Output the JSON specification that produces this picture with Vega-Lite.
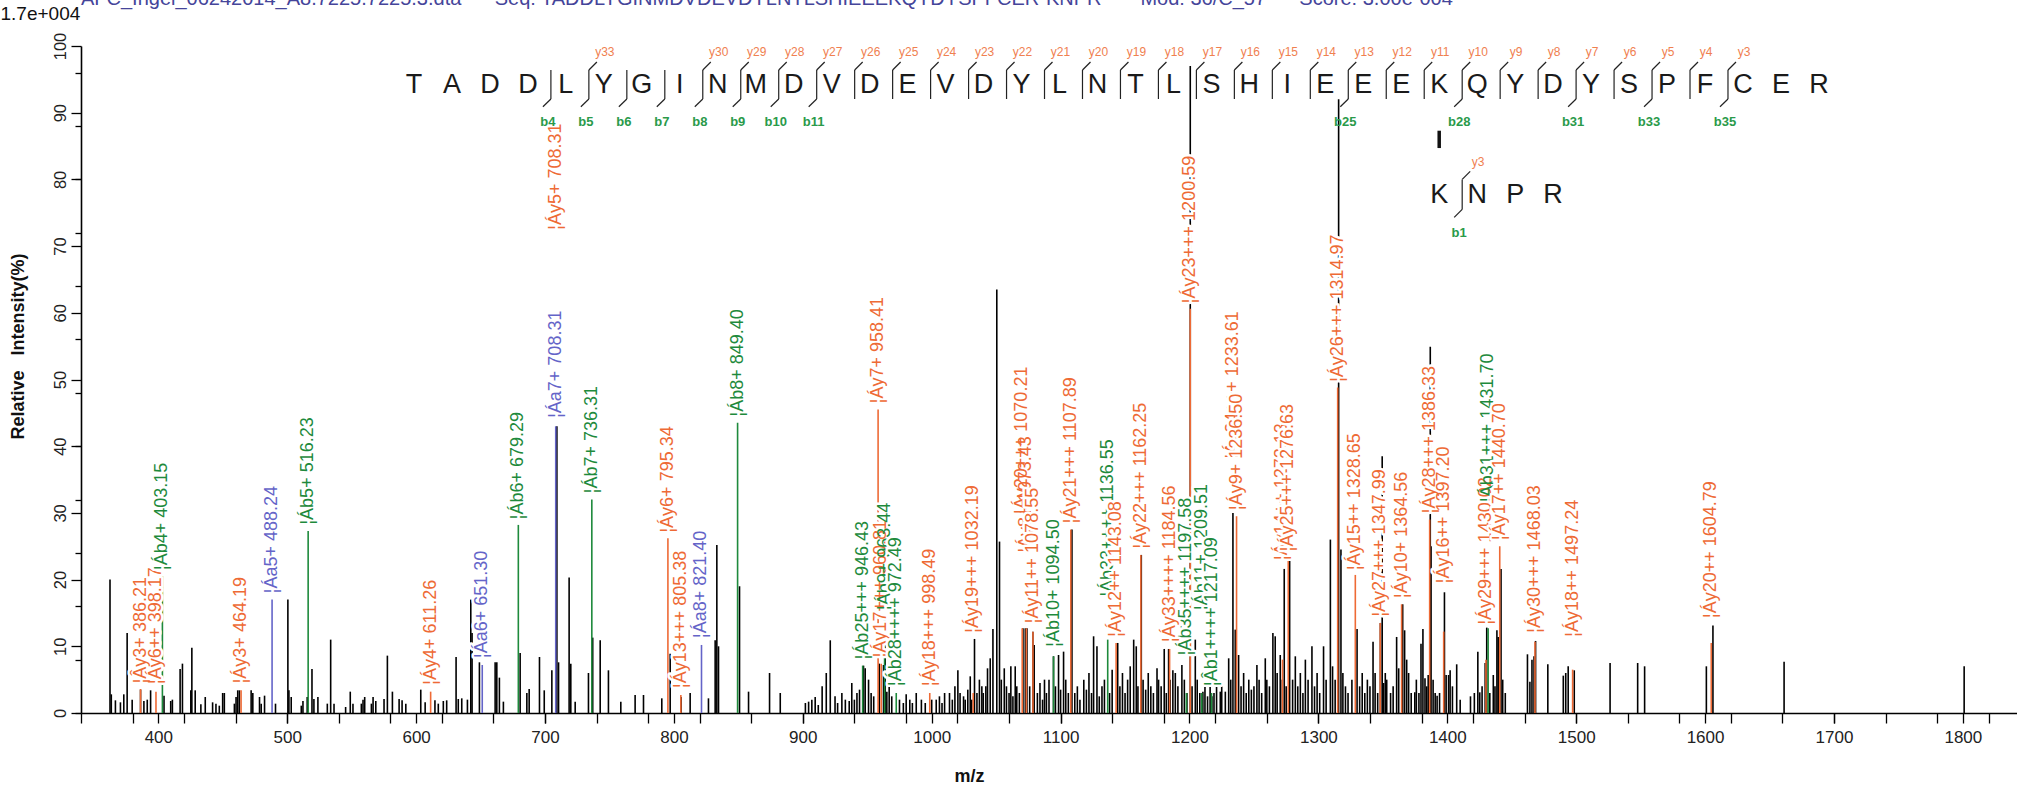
{
"$schema": "https://vega.github.io/schema/vega-lite/v6.json",
"width": 1936, "height": 667,
"autosize": {"type": "none"},
"padding": {"left": 81, "top": 46, "right": 0, "bottom": 78},
"background": "white",
"config": {"view": {"stroke": null}, "font": "Liberation Sans", "axis": {"labelFont": "Liberation Sans", "titleFont": "Liberation Sans", "grid": false}},
"title": {"text": "AFC_Ingel_06242014_A8.7225.7225.3.dta\u00a0\u00a0\u00a0\u00a0\u00a0\u00a0Seq: TADDLYGINMDVDEVDYLNTLSHIEEEKQYDYSPFCER-KNPR\u00a0\u00a0\u00a0\u00a0\u00a0\u00a0\u00a0Mod: 36/C_57\u00a0\u00a0\u00a0\u00a0\u00a0\u00a0Score: 3.00e-004", "anchor": "start", "frame": "group", "offset": -5, "fontSize": 20, "fontWeight": "normal", "color": "#45459a", "font": "Liberation Sans"},
"datasets": {
"peaks": [
{"mz":362.5,"i":20},{"mz":363.5,"i":2.8},{"mz":366.7,"i":1.9},{"mz":370.6,"i":1.6},{"mz":373.2,"i":2.8},{"mz":375.8,"i":12},{"mz":379.7,"i":2},{"mz":386.2,"i":3.5},{"mz":388.8,"i":1.8},{"mz":391.4,"i":2},{"mz":394,"i":3.4},{"mz":404.4,"i":2.6},{"mz":409.6,"i":1.8},{"mz":410.9,"i":2},{"mz":416.9,"i":6.6},{"mz":418.7,"i":7.4},{"mz":425.2,"i":3.4},{"mz":426,"i":9.8},{"mz":428.6,"i":3.4},{"mz":433,"i":1.3},{"mz":436.4,"i":2.4},{"mz":442.1,"i":1.6},{"mz":444.7,"i":1.4},{"mz":447.3,"i":1.1},{"mz":449.9,"i":3},{"mz":451.2,"i":3},{"mz":459,"i":1.4},{"mz":460.3,"i":2.4},{"mz":461.6,"i":3.4},{"mz":462.9,"i":3.4},{"mz":472,"i":3.4},{"mz":473.3,"i":3},{"mz":478.5,"i":2.4},{"mz":479.8,"i":1.4},{"mz":482.4,"i":2.6},{"mz":490.9,"i":1.4},{"mz":500.5,"i":17},{"mz":501.3,"i":3.4},{"mz":503.1,"i":2.4},{"mz":510.9,"i":1.1},{"mz":512.2,"i":1.8},{"mz":515.5,"i":2.4},{"mz":519.2,"i":6.6},{"mz":520.7,"i":2.1},{"mz":523.8,"i":2.4},{"mz":531.1,"i":1.4},{"mz":533.7,"i":11},{"mz":536.3,"i":1.4},{"mz":545.3,"i":0.9},{"mz":548.9,"i":3.2},{"mz":551,"i":1.4},{"mz":557.5,"i":1.4},{"mz":558.8,"i":2},{"mz":560.1,"i":2.4},{"mz":565.3,"i":1.4},{"mz":566.6,"i":2.4},{"mz":568.7,"i":1.8},{"mz":575.1,"i":2.1},{"mz":577.7,"i":8.6},{"mz":581.6,"i":3.2},{"mz":586.8,"i":2.1},{"mz":589.1,"i":1.9},{"mz":592,"i":1.4},{"mz":603.6,"i":3.5},{"mz":607,"i":1.6},{"mz":614.6,"i":1.9},{"mz":617.2,"i":1.4},{"mz":621.1,"i":1.8},{"mz":623.7,"i":1.9},{"mz":631,"i":8.4},{"mz":632.7,"i":2.1},{"mz":635.4,"i":2.2},{"mz":639.8,"i":2},{"mz":642.4,"i":17},{"mz":643.4,"i":12},{"mz":649.1,"i":7.6},{"mz":661.3,"i":7.6},{"mz":662.6,"i":7.6},{"mz":664.6,"i":5.3},{"mz":667.7,"i":1.7},{"mz":680.7,"i":9},{"mz":685.9,"i":3},{"mz":687.7,"i":3.6},{"mz":695.7,"i":8.4},{"mz":699.4,"i":3.4},{"mz":705.3,"i":6.4},{"mz":709.2,"i":43},{"mz":710.5,"i":7.6},{"mz":718.7,"i":20.3},{"mz":720,"i":7.4},{"mz":723.4,"i":1.7},{"mz":733.7,"i":6},{"mz":737,"i":11.3},{"mz":742.8,"i":10.9},{"mz":749.2,"i":6.4},{"mz":758.8,"i":1.7},{"mz":769.9,"i":2.7},{"mz":776.4,"i":2.7},{"mz":790.6,"i":2.2},{"mz":797.1,"i":8.9},{"mz":805.6,"i":2.4},{"mz":812.6,"i":3},{"mz":826.8,"i":2.2},{"mz":832,"i":10.9},{"mz":833.3,"i":25.2},{"mz":834.6,"i":10},{"mz":850.9,"i":19},{"mz":857.9,"i":3.2},{"mz":874.2,"i":6},{"mz":882.5,"i":3},{"mz":904.5,"i":1.7},{"mz":909.6,"i":2.4},{"mz":918.2,"i":6},{"mz":921.3,"i":10.9},{"mz":930.3,"i":3},{"mz":942,"i":3},{"mz":947.1,"i":7.1},{"mz":948.4,"i":6.7},{"mz":959.3,"i":7.4},{"mz":962.6,"i":7.2},{"mz":963.9,"i":14.4},{"mz":965.2,"i":3.2},{"mz":980.2,"i":2.8},{"mz":988,"i":3},{"mz":1003.5,"i":2},{"mz":1013.8,"i":3},{"mz":1020.3,"i":6.4},{"mz":1024.7,"i":2.5},{"mz":1029.9,"i":5.5},{"mz":1033.2,"i":11.1},{"mz":1035.1,"i":3},{"mz":1038.9,"i":4},{"mz":1043.3,"i":6.7},{"mz":1045.4,"i":8.2},{"mz":1047.5,"i":12.6},{"mz":1050.5,"i":63.5},{"mz":1052.6,"i":25.7},{"mz":1056.3,"i":6.7},{"mz":1061.4,"i":7},{"mz":1064.8,"i":7},{"mz":1070.8,"i":12.7},{"mz":1072.6,"i":12.7},{"mz":1073.9,"i":12.7},{"mz":1078.5,"i":12.2},{"mz":1079.5,"i":10.2},{"mz":1087.5,"i":5},{"mz":1094.5,"i":8.5},{"mz":1098.4,"i":8.7},{"mz":1102.3,"i":9.2},{"mz":1108.8,"i":27.5},{"mz":1125.6,"i":11.5},{"mz":1128.2,"i":10},{"mz":1132.1,"i":4},{"mz":1144.3,"i":10.5},{"mz":1156.7,"i":11},{"mz":1158.7,"i":10},{"mz":1162.6,"i":23.7},{"mz":1174.8,"i":6.7},{"mz":1180.4,"i":9.6},{"mz":1183.8,"i":9.6},{"mz":1187.1,"i":6.4},{"mz":1194.1,"i":7.2},{"mz":1200.6,"i":97},{"mz":1204.5,"i":11},{"mz":1210.4,"i":3.2},{"mz":1217.4,"i":2.5},{"mz":1223.9,"i":3.2},{"mz":1227.8,"i":3.2},{"mz":1230.4,"i":8.2},{"mz":1233.7,"i":30},{"mz":1235.5,"i":12.5},{"mz":1238.1,"i":8.7},{"mz":1252.3,"i":7.2},{"mz":1258.8,"i":8.2},{"mz":1264.7,"i":12},{"mz":1266.5,"i":11.5},{"mz":1270.4,"i":8.7},{"mz":1273.5,"i":21.6},{"mz":1277.7,"i":23.5},{"mz":1282.1,"i":8.5},{"mz":1289.9,"i":8},{"mz":1295,"i":10},{"mz":1304,"i":10},{"mz":1309.3,"i":26},{"mz":1315.7,"i":92},{"mz":1317.5,"i":24.5},{"mz":1330,"i":12.6},{"mz":1342.4,"i":10.7},{"mz":1348.1,"i":13.5},{"mz":1349.5,"i":38.5},{"mz":1350.6,"i":4.5},{"mz":1351.9,"i":6},{"mz":1356,"i":3},{"mz":1360.7,"i":11.4},{"mz":1362.3,"i":6.7},{"mz":1365.4,"i":16.3},{"mz":1366.9,"i":12.4},{"mz":1368.5,"i":8},{"mz":1374.8,"i":3.1},{"mz":1379.6,"i":10.4},{"mz":1381.1,"i":12.6},{"mz":1382.7,"i":5.2},{"mz":1385.2,"i":5.7},{"mz":1386.8,"i":54.9},{"mz":1387.4,"i":25},{"mz":1390.6,"i":3},{"mz":1392.1,"i":2.6},{"mz":1397.8,"i":18.1},{"mz":1399.1,"i":5.7},{"mz":1401,"i":5.7},{"mz":1402.2,"i":6.4},{"mz":1407.3,"i":7.3},{"mz":1423.7,"i":9.2},{"mz":1425.2,"i":3.1},{"mz":1429.4,"i":7.5},{"mz":1430.6,"i":12.8},{"mz":1435.7,"i":5.7},{"mz":1438.5,"i":12.4},{"mz":1439.5,"i":11.4},{"mz":1441.7,"i":21.6},{"mz":1462.2,"i":8.8},{"mz":1464.1,"i":4.7},{"mz":1465.7,"i":8},{"mz":1467.3,"i":8.5},{"mz":1468.5,"i":10.8},{"mz":1478,"i":7.3},{"mz":1490,"i":5.6},{"mz":1491.9,"i":6},{"mz":1493.8,"i":7},{"mz":1498.5,"i":6.4},{"mz":1526.3,"i":7.5},{"mz":1547.7,"i":7.5},{"mz":1553.1,"i":7},{"mz":1601,"i":7},{"mz":1606.1,"i":13.1},{"mz":1661.3,"i":7.7},{"mz":1801,"i":7},
{"mz":902,"i":1.5},{"mz":907,"i":2},{"mz":912,"i":1.2},{"mz":915,"i":4},{"mz":925,"i":2.5},{"mz":927,"i":1.5},{"mz":933,"i":2},{"mz":936,"i":1.8},{"mz":938,"i":4.5},{"mz":940,"i":2},{"mz":944,"i":3.5},{"mz":951,"i":5},{"mz":953,"i":3},{"mz":955,"i":2.5},{"mz":967,"i":4},{"mz":969,"i":2.5},{"mz":975,"i":2},{"mz":978,"i":1.5},{"mz":983,"i":2},{"mz":985,"i":1.5},{"mz":992,"i":2},{"mz":995,"i":1.5},{"mz":1000,"i":2},
{"mz":1006,"i":2.5},{"mz":1008,"i":1.5},{"mz":1010,"i":3},{"mz":1016,"i":2},{"mz":1018,"i":4},{"mz":1022,"i":3},{"mz":1026,"i":2},{"mz":1028,"i":3.5},{"mz":1031,"i":2},{"mz":1037,"i":5},{"mz":1040,"i":3},{"mz":1042,"i":4},{"mz":1054,"i":5},{"mz":1058,"i":4},{"mz":1060,"i":3},{"mz":1063,"i":2.5},{"mz":1066,"i":4},{"mz":1068,"i":3},{"mz":1076,"i":4},{"mz":1082,"i":3},{"mz":1084,"i":4.5},{"mz":1086,"i":2},{"mz":1089,"i":3},{"mz":1091,"i":5},{"mz":1096,"i":4},{"mz":1100,"i":3.5},{"mz":1104,"i":5},{"mz":1106,"i":3},
{"mz":1111,"i":3},{"mz":1113,"i":4},{"mz":1115,"i":2},{"mz":1118,"i":5},{"mz":1120,"i":3.5},{"mz":1122,"i":6},{"mz":1124,"i":3},{"mz":1130,"i":2.5},{"mz":1134,"i":5},{"mz":1138,"i":3},{"mz":1140,"i":6.5},{"mz":1146,"i":4},{"mz":1148,"i":6},{"mz":1150,"i":3},{"mz":1152,"i":5},{"mz":1154,"i":7},{"mz":1160,"i":4},{"mz":1164,"i":5},{"mz":1166,"i":3.5},{"mz":1168,"i":6},{"mz":1170,"i":4},{"mz":1172,"i":3},{"mz":1176,"i":5},{"mz":1178,"i":4},{"mz":1182,"i":3},{"mz":1185,"i":5},{"mz":1189,"i":6},{"mz":1191,"i":4},{"mz":1196,"i":5},{"mz":1198,"i":3},
{"mz":1202,"i":4},{"mz":1206,"i":5},{"mz":1208,"i":3},{"mz":1212,"i":4},{"mz":1214,"i":2.5},{"mz":1216,"i":4.5},{"mz":1219,"i":3},{"mz":1221,"i":5},{"mz":1225,"i":4},{"mz":1232,"i":5},{"mz":1240,"i":4},{"mz":1242,"i":6},{"mz":1244,"i":3},{"mz":1246,"i":5},{"mz":1248,"i":3.5},{"mz":1250,"i":4},{"mz":1254,"i":5},{"mz":1256,"i":3},{"mz":1260,"i":5},{"mz":1262,"i":4},{"mz":1268,"i":6},{"mz":1272,"i":5},{"mz":1275,"i":4},{"mz":1280,"i":5},{"mz":1284,"i":4},{"mz":1286,"i":6},{"mz":1288,"i":3},{"mz":1292,"i":5},{"mz":1297,"i":4},{"mz":1299,"i":6},{"mz":1301,"i":3},{"mz":1306,"i":5},{"mz":1311,"i":7},
{"mz":1313,"i":5},{"mz":1319,"i":6},{"mz":1321,"i":4},{"mz":1323,"i":3},{"mz":1326,"i":5},{"mz":1332,"i":4},{"mz":1334,"i":6},{"mz":1336,"i":3},{"mz":1338,"i":5},{"mz":1340,"i":4},{"mz":1344,"i":6},{"mz":1346,"i":3},{"mz":1353,"i":5},{"mz":1358,"i":4},{"mz":1370,"i":6},{"mz":1372,"i":3},{"mz":1376,"i":5},{"mz":1378,"i":3},{"mz":1384,"i":4},{"mz":1389,"i":5},{"mz":1394,"i":3},{"mz":1404,"i":4},{"mz":1410,"i":2},{"mz":1418,"i":2.5},{"mz":1421,"i":3},{"mz":1427,"i":4},{"mz":1433,"i":3},{"mz":1437,"i":4},{"mz":1443,"i":5},{"mz":1445,"i":3}
],
"ann": [
{"mz":386.21,"h":4,"l":3.6,"t":"¦Ây3+ 386.21","ion":"y","lv":"back"},
{"mz":398.17,"h":3.9,"l":3.2,"t":"¦Áy6++ 398.17","ion":"y","lv":"back"},
{"mz":403.15,"h":21,"l":20.5,"t":"¦Áb4+ 403.15","ion":"b","lv":"front"},
{"mz":464.19,"h":4,"l":3.4,"t":"¦Áy3+ 464.19","ion":"y","lv":"front"},
{"mz":488.24,"h":17.5,"l":17,"t":"¦Áa5+ 488.24","ion":"a","lv":"front"},
{"mz":516.23,"h":27.8,"l":27.3,"t":"¦Áb5+ 516.23","ion":"b","lv":"front"},
{"mz":611.26,"h":3.8,"l":3.2,"t":"¦Áy4+ 611.26","ion":"y","lv":"front"},
{"mz":651.30,"h":7.8,"l":7.2,"t":"¦Áa6+ 651.30","ion":"a","lv":"front"},
{"mz":679.29,"h":28.6,"l":28.2,"t":"¦Áb6+ 679.29","ion":"b","lv":"front"},
{"mz":708.31,"h":43.8,"l":43,"t":"¦Áa7+ 708.31","ion":"a","lv":"front"},
{"mz":708.31,"h":72,"l":0,"t":"¦Áy5+ 708.31","ion":"y","lv":"front"},
{"mz":736.31,"h":32.5,"l":32,"t":"¦Áb7+ 736.31","ion":"b","lv":"front"},
{"mz":795.34,"h":26.6,"l":26.2,"t":"¦Áy6+ 795.34","ion":"y","lv":"front"},
{"mz":805.38,"h":3.3,"l":2.7,"t":"¦Áy13+++ 805.38","ion":"y","lv":"front"},
{"mz":821.40,"h":10.8,"l":10.2,"t":"¦Áa8+ 821.40","ion":"a","lv":"front"},
{"mz":849.40,"h":44,"l":43.5,"t":"¦Áb8+ 849.40","ion":"b","lv":"front"},
{"mz":946.43,"h":7.6,"l":7.1,"t":"¦Áb25+++ 946.43","ion":"b","lv":"back"},
{"mz":958.41,"h":46,"l":45.5,"t":"¦Áy7+ 958.41","ion":"y","lv":"front"},
{"mz":960.81,"h":7.9,"l":7.4,"t":"¦Áy17+++ 960.81","ion":"y","lv":"back"},
{"mz":963.44,"h":15,"l":14.4,"t":"¦Áb9+ 963.44","ion":"b","lv":"back"},
{"mz":972.49,"h":3.6,"l":3,"t":"¦Áb28++++ 972.49","ion":"b","lv":"front"},
{"mz":998.49,"h":3.6,"l":3,"t":"¦Áy18+++ 998.49","ion":"y","lv":"front"},
{"mz":1032.19,"h":11.6,"l":3,"t":"¦Áy19+++ 1032.19","ion":"y","lv":"front"},
{"mz":1070.21,"h":29.4,"l":12.7,"t":"¦Áy20+++ 1070.21","ion":"y","lv":"back"},
{"mz":1073.43,"h":23.6,"l":12.7,"t":"¦Áy8+ 1073.43","ion":"y","lv":"back"},
{"mz":1078.55,"h":13,"l":12.2,"t":"¦Áy11++ 1078.55","ion":"y","lv":"front"},
{"mz":1094.50,"h":9.5,"l":8.5,"t":"¦Áb10+ 1094.50","ion":"b","lv":"front"},
{"mz":1107.89,"h":28,"l":27.5,"t":"¦Áy21+++ 1107.89","ion":"y","lv":"front"},
{"mz":1136.55,"h":17,"l":11,"t":"¦Áb33++++ 1136.55","ion":"b","lv":"back"},
{"mz":1143.08,"h":11,"l":10.5,"t":"¦Áy12++ 1143.08","ion":"y","lv":"front"},
{"mz":1162.25,"h":24.2,"l":23.7,"t":"¦Áy22+++ 1162.25","ion":"y","lv":"front"},
{"mz":1184.56,"h":10.2,"l":9.6,"t":"¦Áy33++++ 1184.56","ion":"y","lv":"front"},
{"mz":1197.58,"h":8.2,"l":3,"t":"¦Áb35++++ 1197.58","ion":"b","lv":"back"},
{"mz":1200.59,"h":61,"l":60.6,"t":"¦Áy23+++ 1200.59","ion":"y","lv":"front"},
{"mz":1209.51,"h":15,"l":3,"t":"¦Áb11+ 1209.51","ion":"b","lv":"back"},
{"mz":1217.09,"h":3.6,"l":3,"t":"¦Âb1++++ 1217.09","ion":"b","lv":"front"},
{"mz":1233.61,"h":37.7,"l":0,"t":"¦Áy24+++ 1233.61","ion":"y","lv":"back"},
{"mz":1236.50,"h":30,"l":29.5,"t":"¦Áy9+ 1236.50","ion":"y","lv":"front"},
{"mz":1272.13,"h":22.5,"l":8,"t":"¦Áy14++ 1272.13","ion":"y","lv":"back"},
{"mz":1276.63,"h":23.8,"l":23.4,"t":"¦Áy25+++ 1276.63","ion":"y","lv":"front"},
{"mz":1314.97,"h":49.2,"l":48.8,"t":"¦Áy26+++ 1314.97","ion":"y","lv":"front"},
{"mz":1328.65,"h":21,"l":20.7,"t":"¦Áy15++ 1328.65","ion":"y","lv":"front"},
{"mz":1347.99,"h":14,"l":13.5,"t":"¦Áy27+++ 1347.99","ion":"y","lv":"front"},
{"mz":1364.56,"h":16.8,"l":16.3,"t":"¦Áy10+ 1364.56","ion":"y","lv":"front"},
{"mz":1386.33,"h":29.5,"l":29,"t":"¦Áy28+++ 1386.33","ion":"y","lv":"front"},
{"mz":1397.20,"h":19,"l":12.2,"t":"¦Áy16++ 1397.20","ion":"y","lv":"front"},
{"mz":1430.02,"h":12.8,"l":8,"t":"¦Áy29+++ 1430.02","ion":"y","lv":"back"},
{"mz":1431.70,"h":31.2,"l":12.7,"t":"¦Áb31+++ 1431.70","ion":"b","lv":"back"},
{"mz":1440.70,"h":25.5,"l":25,"t":"¦Áy17++ 1440.70","ion":"y","lv":"front"},
{"mz":1468.03,"h":11.6,"l":10.7,"t":"¦Áy30+++ 1468.03","ion":"y","lv":"front"},
{"mz":1497.24,"h":11,"l":6.5,"t":"¦Áy18++ 1497.24","ion":"y","lv":"front"},
{"mz":1604.79,"h":13.8,"l":10.5,"t":"¦Áy20++ 1604.79","ion":"y","lv":"front"}
],
"seq": [
{"i":1,"aa":"T","row":1},{"i":2,"aa":"A","row":1},{"i":3,"aa":"D","row":1},{"i":4,"aa":"D","row":1},{"i":5,"aa":"L","row":1},{"i":6,"aa":"Y","row":1},{"i":7,"aa":"G","row":1},{"i":8,"aa":"I","row":1},{"i":9,"aa":"N","row":1},{"i":10,"aa":"M","row":1},{"i":11,"aa":"D","row":1},{"i":12,"aa":"V","row":1},{"i":13,"aa":"D","row":1},{"i":14,"aa":"E","row":1},{"i":15,"aa":"V","row":1},{"i":16,"aa":"D","row":1},{"i":17,"aa":"Y","row":1},{"i":18,"aa":"L","row":1},{"i":19,"aa":"N","row":1},{"i":20,"aa":"T","row":1},{"i":21,"aa":"L","row":1},{"i":22,"aa":"S","row":1},{"i":23,"aa":"H","row":1},{"i":24,"aa":"I","row":1},{"i":25,"aa":"E","row":1},{"i":26,"aa":"E","row":1},{"i":27,"aa":"E","row":1},{"i":28,"aa":"K","row":1},{"i":29,"aa":"Q","row":1},{"i":30,"aa":"Y","row":1},{"i":31,"aa":"D","row":1},{"i":32,"aa":"Y","row":1},{"i":33,"aa":"S","row":1},{"i":34,"aa":"P","row":1},{"i":35,"aa":"F","row":1},{"i":36,"aa":"C","row":1},{"i":37,"aa":"E","row":1},{"i":38,"aa":"R","row":1},
{"i":28,"aa":"K","row":2},{"i":29,"aa":"N","row":2},{"i":30,"aa":"P","row":2},{"i":31,"aa":"R","row":2}
],
"cuts": [
{"cut":4.5,"row":1,"b":"b4"},{"cut":5.5,"row":1,"y":"y33","b":"b5"},{"cut":6.5,"row":1,"b":"b6"},{"cut":7.5,"row":1,"b":"b7"},{"cut":8.5,"row":1,"y":"y30","b":"b8"},{"cut":9.5,"row":1,"y":"y29","b":"b9"},{"cut":10.5,"row":1,"y":"y28","b":"b10"},{"cut":11.5,"row":1,"y":"y27","b":"b11"},{"cut":12.5,"row":1,"y":"y26"},{"cut":13.5,"row":1,"y":"y25"},{"cut":14.5,"row":1,"y":"y24"},{"cut":15.5,"row":1,"y":"y23"},{"cut":16.5,"row":1,"y":"y22"},{"cut":17.5,"row":1,"y":"y21"},{"cut":18.5,"row":1,"y":"y20"},{"cut":19.5,"row":1,"y":"y19"},{"cut":20.5,"row":1,"y":"y18"},{"cut":21.5,"row":1,"y":"y17"},{"cut":22.5,"row":1,"y":"y16"},{"cut":23.5,"row":1,"y":"y15"},{"cut":24.5,"row":1,"y":"y14"},{"cut":25.5,"row":1,"y":"y13","b":"b25"},{"cut":26.5,"row":1,"y":"y12"},{"cut":27.5,"row":1,"y":"y11"},{"cut":28.5,"row":1,"y":"y10","b":"b28"},{"cut":29.5,"row":1,"y":"y9"},{"cut":30.5,"row":1,"y":"y8"},{"cut":31.5,"row":1,"y":"y7","b":"b31"},{"cut":32.5,"row":1,"y":"y6"},{"cut":33.5,"row":1,"y":"y5","b":"b33"},{"cut":34.5,"row":1,"y":"y4"},{"cut":35.5,"row":1,"y":"y3","b":"b35"},
{"cut":28.5,"row":2,"y":"y3","b":"b1"}
]
},
"layer": [
{
"layer": [
{"data": {"name": "peaks"}, "mark": {"type": "rule", "color": "#000000", "strokeWidth": 1.6},
 "encoding": {
  "x": {"field": "mz", "type": "quantitative", "scale": {"domain": [340, 1842], "nice": false, "zero": false},
        "axis": {"values": [340,360,380,400,420,440,460,480,500,520,540,560,580,600,620,640,660,680,700,720,740,760,780,800,820,840,860,880,900,920,940,960,980,1000,1020,1040,1060,1080,1100,1120,1140,1160,1180,1200,1220,1240,1260,1280,1300,1320,1340,1360,1380,1400,1420,1440,1460,1480,1500,1520,1540,1560,1580,1600,1620,1640,1660,1680,1700,1720,1740,1760,1780,1800,1820,1840],
                 "labels": false,
                 "tickSize": 10, "tickColor": "#000", "tickWidth": 1.3, "domainColor": "#000", "domainWidth": 1.6,
                 "title": "m/z", "titleFontSize": 18, "titleFontWeight": "bold", "titleColor": "#111", "titleX": 888, "titleY": 63, "titleBaseline": "middle"}},
  "y": {"field": "i", "type": "quantitative", "scale": {"domain": [0, 100], "nice": false, "zero": true},
        "axis": {"values": [0,2,4,6,8,10,12,14,16,18,20,22,24,26,28,30,32,34,36,38,40,42,44,46,48,50,52,54,56,58,60,62,64,66,68,70,72,74,76,78,80,82,84,86,88,90,92,94,96,98,100],
                 "labels": false, "tickSize": 6, "tickColor": "#000", "tickWidth": 1.3, "domainColor": "#000", "domainWidth": 1.6,
                 "title": "Relative\u00a0\u00a0\u00a0Intensity(%)", "titleFontSize": 18, "titleFontWeight": "bold", "titleColor": "#111",
                 "titleAngle": 270, "titleX": -63, "titleY": 300, "titleAlign": "center", "titleBaseline": "middle"}},
  "y2": {"datum": 0}
 }},
{"data": {"name": "ann"}, "transform": [{"filter": "datum.l > 0"}], "mark": {"type": "rule", "strokeWidth": 1.6},
 "encoding": {
  "x": {"field": "mz", "type": "quantitative"},
  "y": {"field": "l", "type": "quantitative"},
  "y2": {"datum": 0},
  "color": {"field": "ion", "type": "nominal", "scale": {"domain": ["y", "b", "a"], "range": ["#ee6a35", "#1e8a3c", "#6464c8"]}, "legend": null}
 }},
{"data": {"name": "ann"}, "transform": [{"filter": "datum.lv === 'back'"}],
 "mark": {"type": "text", "angle": 270, "align": "left", "baseline": "middle", "dx": 3, "fontSize": 18, "stroke": "white", "strokeWidth": 5, "fill": "white", "strokeJoin": "round"},
 "encoding": {"x": {"field": "mz", "type": "quantitative"}, "y": {"field": "h", "type": "quantitative"}, "text": {"field": "t"}}},
{"data": {"name": "ann"}, "transform": [{"filter": "datum.lv === 'back'"}],
 "mark": {"type": "text", "angle": 270, "align": "left", "baseline": "middle", "dx": 3, "fontSize": 18},
 "encoding": {"x": {"field": "mz", "type": "quantitative"}, "y": {"field": "h", "type": "quantitative"}, "text": {"field": "t"},
  "color": {"field": "ion", "type": "nominal", "scale": {"domain": ["y", "b", "a"], "range": ["#f3845a", "#2a9447", "#5b5bb5"]}, "legend": null}}},
{"data": {"name": "ann"}, "transform": [{"filter": "datum.lv === 'front'"}],
 "mark": {"type": "text", "angle": 270, "align": "left", "baseline": "middle", "dx": 3, "fontSize": 18, "stroke": "white", "strokeWidth": 5, "fill": "white", "strokeJoin": "round"},
 "encoding": {"x": {"field": "mz", "type": "quantitative"}, "y": {"field": "h", "type": "quantitative"}, "text": {"field": "t"}}},
{"data": {"name": "ann"}, "transform": [{"filter": "datum.lv === 'front'"}],
 "mark": {"type": "text", "angle": 270, "align": "left", "baseline": "middle", "dx": 3, "fontSize": 18},
 "encoding": {"x": {"field": "mz", "type": "quantitative"}, "y": {"field": "h", "type": "quantitative"}, "text": {"field": "t"},
  "color": {"field": "ion", "type": "nominal", "scale": {"domain": ["y", "b", "a"], "range": ["#f3845a", "#2a9447", "#5b5bb5"]}, "legend": null}}}
]
},
{"data": {"name": "peaks"}, "mark": {"type": "rule", "strokeOpacity": 0},
 "encoding": {
  "x": {"field": "mz", "type": "quantitative", "scale": {"domain": [340, 1842], "nice": false, "zero": false},
        "axis": {"orient": "bottom", "values": [400,500,600,700,800,900,1000,1100,1200,1300,1400,1500,1600,1700,1800], "format": "d", "labelOverlap": false,
                 "tickSize": 10, "tickColor": "#000", "tickWidth": 1.3, "domain": false,
                 "labelFontSize": 17, "labelColor": "#222", "labelPadding": 6, "title": null}},
  "y": {"field": "i", "type": "quantitative",
        "axis": {"orient": "left", "values": [0,10,20,30,40,50,60,70,80,90,100], "tickSize": 10, "tickColor": "#000", "tickWidth": 1.3, "domain": false,
                 "labelAngle": 270, "labelAlign": "center", "labelBaseline": "bottom", "labelFontSize": 16.5, "labelColor": "#222", "labelPadding": 3,
                 "title": "1.7e+004", "titleAngle": 0, "titleX": -81, "titleY": -33, "titleAlign": "left", "titleBaseline": "middle", "titleFontSize": 19, "titleFontWeight": "normal", "titleColor": "#111"}},
  "y2": {"datum": 0}
 }},
{
"data": {"name": "seq"},
"layer": [
{"transform": [{"filter": "datum.row === 1"}], "mark": {"type": "text", "fontSize": 27, "baseline": "middle", "align": "center", "color": "#1a1a1a"},
 "encoding": {"x": {"field": "i", "type": "quantitative", "scale": {"domain": [-7.77, 43.217], "nice": false, "zero": false}, "axis": null},
              "y": {"datum": 94.15, "type": "quantitative", "axis": null}, "text": {"field": "aa"}}},
{"transform": [{"filter": "datum.row === 2"}], "mark": {"type": "text", "fontSize": 27, "baseline": "middle", "align": "center", "color": "#1a1a1a"},
 "encoding": {"x": {"field": "i", "type": "quantitative"}, "y": {"datum": 77.66, "type": "quantitative"}, "text": {"field": "aa"}}},
{"transform": [{"filter": "datum.row === 2 && datum.aa === 'K'"}], "mark": {"type": "rule", "strokeWidth": 3.5, "color": "#111"},
 "encoding": {"x": {"field": "i", "type": "quantitative"}, "y": {"datum": 84.7, "type": "quantitative"}, "y2": {"datum": 87.3}}},
{"data": {"name": "cuts"}, "transform": [{"filter": "datum.row === 1"}], "mark": {"type": "rule", "strokeWidth": 1.2, "color": "#222", "xOffset": 4},
 "encoding": {"x": {"field": "cut", "type": "quantitative"}, "y": {"datum": 92.05, "type": "quantitative"}, "y2": {"datum": 96.4}}},
{"data": {"name": "cuts"}, "transform": [{"filter": "datum.row === 1 && datum.y"}], "mark": {"type": "rule", "strokeWidth": 1.2, "color": "#222", "xOffset": 4, "x2Offset": 12},
 "encoding": {"x": {"field": "cut", "type": "quantitative"}, "x2": {"field": "cut"}, "y": {"datum": 96.4, "type": "quantitative"}, "y2": {"datum": 97.6}}},
{"data": {"name": "cuts"}, "transform": [{"filter": "datum.row === 1 && datum.b"}], "mark": {"type": "rule", "strokeWidth": 1.2, "color": "#222", "xOffset": 4, "x2Offset": -4},
 "encoding": {"x": {"field": "cut", "type": "quantitative"}, "x2": {"field": "cut"}, "y": {"datum": 92.05, "type": "quantitative"}, "y2": {"datum": 90.9}}},
{"data": {"name": "cuts"}, "transform": [{"filter": "datum.row === 1 && datum.y"}], "mark": {"type": "text", "fontSize": 12, "color": "#f08050", "xOffset": 20, "baseline": "middle", "align": "center"},
 "encoding": {"x": {"field": "cut", "type": "quantitative"}, "y": {"datum": 99.1, "type": "quantitative"}, "text": {"field": "y"}}},
{"data": {"name": "cuts"}, "transform": [{"filter": "datum.row === 1 && datum.b"}], "mark": {"type": "text", "fontSize": 13, "fontWeight": "bold", "color": "#2a9a4a", "xOffset": 1, "baseline": "middle", "align": "center"},
 "encoding": {"x": {"field": "cut", "type": "quantitative"}, "y": {"datum": 88.6, "type": "quantitative"}, "text": {"field": "b"}}},
{"data": {"name": "cuts"}, "transform": [{"filter": "datum.row === 2"}], "mark": {"type": "rule", "strokeWidth": 1.2, "color": "#222", "xOffset": 4},
 "encoding": {"x": {"field": "cut", "type": "quantitative"}, "y": {"datum": 75.5, "type": "quantitative"}, "y2": {"datum": 80.0}}},
{"data": {"name": "cuts"}, "transform": [{"filter": "datum.row === 2"}], "mark": {"type": "rule", "strokeWidth": 1.2, "color": "#222", "xOffset": 4, "x2Offset": 12},
 "encoding": {"x": {"field": "cut", "type": "quantitative"}, "x2": {"field": "cut"}, "y": {"datum": 80.0, "type": "quantitative"}, "y2": {"datum": 81.2}}},
{"data": {"name": "cuts"}, "transform": [{"filter": "datum.row === 2"}], "mark": {"type": "rule", "strokeWidth": 1.2, "color": "#222", "xOffset": 4, "x2Offset": -4},
 "encoding": {"x": {"field": "cut", "type": "quantitative"}, "x2": {"field": "cut"}, "y": {"datum": 75.5, "type": "quantitative"}, "y2": {"datum": 74.3}}},
{"data": {"name": "cuts"}, "transform": [{"filter": "datum.row === 2"}], "mark": {"type": "text", "fontSize": 12, "color": "#f08050", "xOffset": 20, "baseline": "middle", "align": "center"},
 "encoding": {"x": {"field": "cut", "type": "quantitative"}, "y": {"datum": 82.6, "type": "quantitative"}, "text": {"field": "y"}}},
{"data": {"name": "cuts"}, "transform": [{"filter": "datum.row === 2"}], "mark": {"type": "text", "fontSize": 13, "fontWeight": "bold", "color": "#2a9a4a", "xOffset": 1, "baseline": "middle", "align": "center"},
 "encoding": {"x": {"field": "cut", "type": "quantitative"}, "y": {"datum": 72.0, "type": "quantitative"}, "text": {"field": "b"}}}
]
}
],
"resolve": {"scale": {"x": "independent"}, "axis": {"x": "independent", "y": "independent"}}
}
